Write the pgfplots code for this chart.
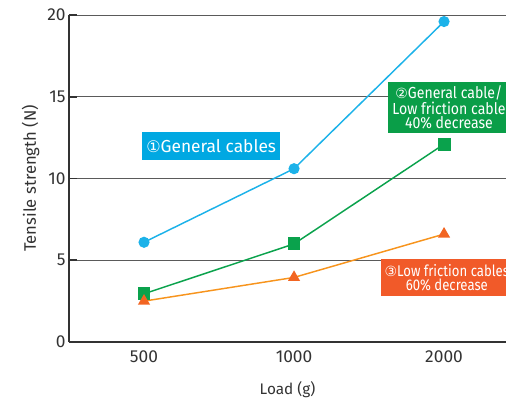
\documentclass[border=0pt]{standalone}
\usepackage{pgfplots}
\pgfplotsset{compat=1.18}
\usepackage{fontspec}
\setmainfont{Fira Sans}
\newfontfamily\cond[FakeStretch=0.88]{Fira Sans}
\newfontfamily\condb[FakeStretch=0.85]{Fira Sans}
\newfontfamily\sym{DejaVu Sans}
\definecolor{cblue}{HTML}{1CB2E9}
\definecolor{bblue}{HTML}{00A8E2}
\definecolor{cgreen}{HTML}{0AA24C}
\definecolor{bgreen}{HTML}{0A9E48}
\definecolor{corange}{HTML}{F7941D}
\definecolor{tri}{HTML}{F26522}
\definecolor{borange}{HTML}{F15A29}
\definecolor{gridc}{HTML}{5A5A5A}
\definecolor{axc}{HTML}{333333}
\begin{document}
\begin{tikzpicture}
\clip (-51.75pt,-47.25pt) rectangle (327.75pt,256.5pt);
\begin{axis}[
  scale only axis, width=327.75pt, height=245.25pt,
  xmin=-0.5, xmax=2.413, ymin=0, ymax=20,
  axis x line=bottom, axis y line=left,
  axis line style={axc, line width=0.9pt, -},
  xtick={0,1,2}, xticklabels={500,1000,2000},
  x tick style={draw=none},
  extra x ticks={0.5,1.5}, extra x tick labels={},
  extra x tick style={tick style={draw=axc, line width=0.8pt}, major tick length=4pt, tick align=inside},
  ytick={0,5,10,15,20},
  ymajorgrids, major grid style={gridc, line width=0.7pt},
  y tick style={axc, line width=1.2pt}, tick align=inside, major tick length=6pt,
  tick label style={font=\fontsize{13}{15}\selectfont, text=axc},
  /pgf/number format/assume math mode=true,
  yticklabel style={xshift=1pt},
  xticklabel style={yshift=-3pt},
  xlabel={Load (g)}, ylabel={Tensile strength (N)},
  xlabel style={font=\fontsize{11.5}{13}\selectfont, text=axc, yshift=-7pt},
  ylabel style={font=\fontsize{12.5}{14}\selectfont, text=axc, yshift=-1pt},
  clip=false,
]
\addplot[cblue, line width=1.1pt, mark=*, mark size=3.6pt, mark options={fill=cblue, draw=cblue}]
  coordinates {(0,6.1) (1,10.6) (2,19.6)};
\addplot[cgreen, line width=1.1pt, mark=square*, mark size=4.3pt, mark options={fill=cgreen, draw=cgreen}]
  coordinates {(0,2.95) (1,6.0) (2,12.1)};
\addplot[corange, line width=1.1pt, mark=triangle*, mark size=4.2pt, mark options={fill=tri, draw=tri}]
  coordinates {(0,2.5) (1,3.95) (2,6.6)};
\node[anchor=west, fill=bblue, text=white, inner xsep=3pt, minimum height=21pt, font=\fontsize{13}{14}\selectfont]
  at (axis cs:-0.013,12) {{\sym\fontsize{12}{14}\selectfont ①}General cables};
\node[anchor=west, fill=bgreen, text=white, inner xsep=3pt, inner ysep=2pt, minimum height=38.25pt, align=center, font=\cond\fontsize{12}{10.6}\selectfont]
  at (axis cs:1.627,14.34) {{\sym\fontsize{10.5}{10.5}\selectfont ②}General cable/\\Low friction cable\\40\% decrease};
\node[anchor=west, fill=borange, text=white, inner xsep=2.5pt, inner ysep=2pt, minimum height=27.75pt, align=center, font=\condb\fontsize{11.6}{10.6}\selectfont]
  at (axis cs:1.58,3.94) {{\sym\fontsize{10.5}{10.5}\selectfont ③}Low friction cables\\60\% decrease};
\end{axis}
\end{tikzpicture}
\end{document}
